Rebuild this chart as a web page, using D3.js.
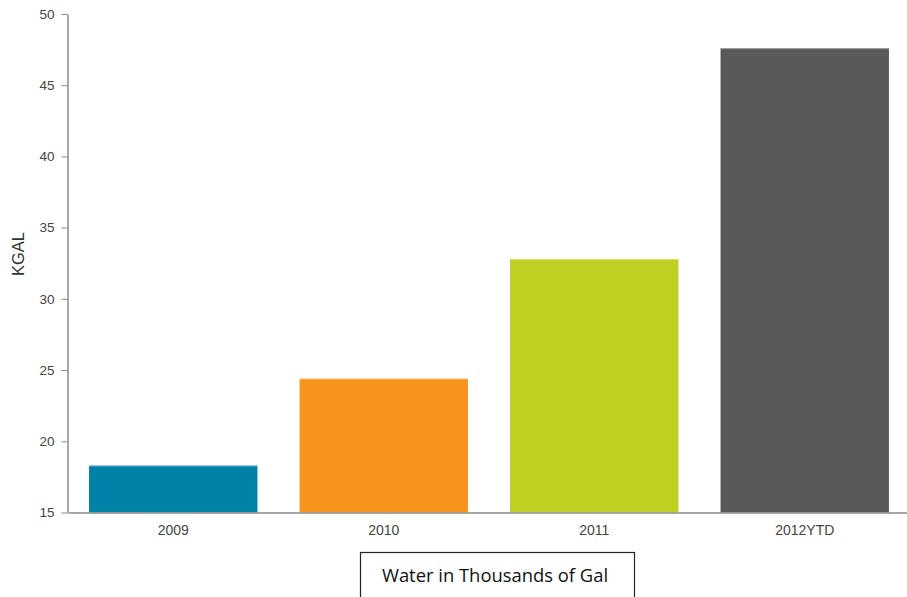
<!DOCTYPE html>
<html>
<head>
<meta charset="utf-8">
<script src="https://cdn.jsdelivr.net/npm/d3@7"></script>
<style>
  html, body { margin: 0; padding: 0; background: #fff; }
  svg { display: block; }
</style>
</head>
<body>
<svg id="chart" width="907" height="597"></svg>
<script>
const categories = ["2009", "2010", "2011", "2012YTD"];
const values = [18.3, 24.4, 32.8, 47.6];
const colors = ["#0081a7", "#f7941e", "#c1cf22", "#595959"];
const yTicks = [15, 20, 25, 30, 35, 40, 45, 50];
const yLabel = "KGAL";
const boxLabel = "Water in Thousands of Gal";

(function () {
const svg = d3.select("#chart");
const mLeft = 68, mRight = 910, mTop = 14, mBottom = 512.5;
const axisFont = "'Liberation Sans', Arial, Helvetica, sans-serif";

const x = d3.scaleBand().domain(categories).range([mLeft, mRight]).paddingInner(0.2).paddingOuter(0.1);
const y = d3.scaleLinear().domain([15, 50]).range([mBottom, mTop]);

// bars
svg.append("g").selectAll("rect").data(categories).join("rect")
  .attr("x", d => x(d))
  .attr("width", x.bandwidth())
  .attr("y", (d, i) => y(values[i]))
  .attr("height", (d, i) => y(15) - y(values[i]))
  .attr("fill", (d, i) => colors[i]);

// bar top highlight
svg.append("g").selectAll("line").data(categories).join("line")
  .attr("x1", d => x(d))
  .attr("x2", d => x(d) + x.bandwidth())
  .attr("y1", (d, i) => y(values[i]) + 0.5)
  .attr("y2", (d, i) => y(values[i]) + 0.5)
  .attr("stroke", "#fff")
  .attr("stroke-opacity", 0.35);

// y axis
const yAxis = svg.append("g")
  .attr("transform", `translate(${mLeft - 0.5},0)`)
  .attr("font-family", axisFont)
  .call(d3.axisLeft(y).tickValues(yTicks).tickSize(6).tickPadding(7).tickSizeOuter(0));
yAxis.attr("font-family", axisFont).attr("font-size", 13.5);
yAxis.select(".domain").attr("stroke", "#8a8a8a").attr("stroke-width", 1.5);
yAxis.selectAll(".tick line").attr("stroke", "#8a8a8a");
yAxis.selectAll(".tick text").attr("fill", "#444");

// x axis
const xAxis = svg.append("g")
  .attr("transform", `translate(0,${mBottom})`)
  .call(d3.axisBottom(x).tickSize(0).tickPadding(13));
xAxis.attr("font-family", axisFont).attr("font-size", 14);
xAxis.select(".domain").attr("stroke", "#8a8a8a").attr("stroke-width", 1.5);
xAxis.selectAll(".tick text").attr("fill", "#444");

// y label
svg.append("text")
  .attr("transform", `translate(24,254) rotate(-90)`)
  .attr("text-anchor", "middle")
  .attr("fill", "#333")
  .attr("font-family", axisFont)
  .attr("font-size", 16.5)
  .text(yLabel);

// bottom box
svg.append("rect")
  .attr("x", 360.5).attr("y", 552.5)
  .attr("width", 274).attr("height", 60)
  .attr("fill", "none")
  .attr("stroke", "#222")
  .attr("stroke-width", 1.2);

svg.append("text")
  .attr("x", 495).attr("y", 582)
  .attr("text-anchor", "middle")
  .attr("fill", "#111")
  .attr("font-family", "'Open Sans', 'Noto Sans', sans-serif")
  .attr("font-size", 18.4)
  .text(boxLabel);
})();
</script>
</body>
</html>
